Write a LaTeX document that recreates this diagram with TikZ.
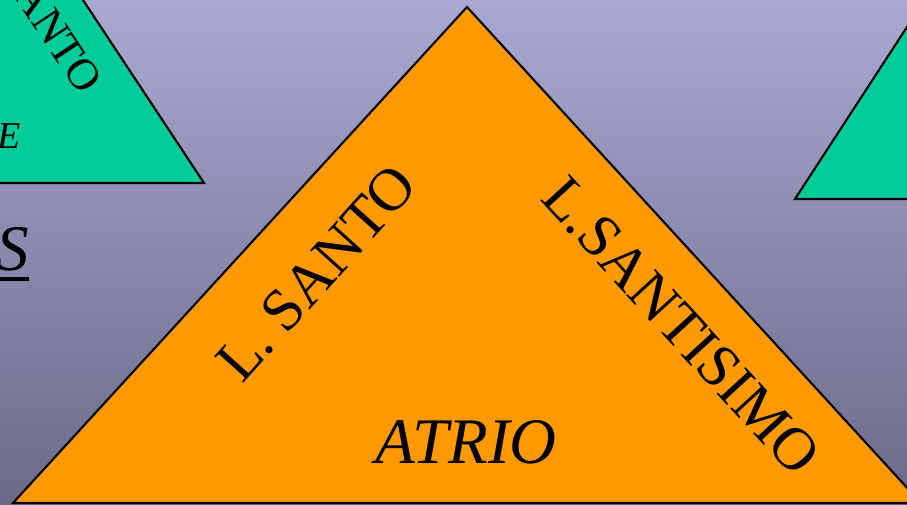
\documentclass[tikz,border=0pt]{standalone}
\usepackage{fontspec}
\setmainfont{Liberation Serif}
\usepackage{tikz}
\definecolor{bgtop}{RGB}{168,168,210}
\definecolor{bgbot}{RGB}{106,106,136}
\definecolor{zoneorange}{HTML}{FF9900}
\definecolor{zonegreen}{HTML}{00CC99}

\begin{document}
\begin{tikzpicture}[x=1pt,y=-1pt,
 zone/.style={draw=black,line width=2.1pt,line join=miter},
 big/.style={inner sep=0pt,font=\fontsize{60}{72}\selectfont},
 bigit/.style={inner sep=0pt,font=\fontsize{65}{78}\selectfont\itshape}
]
\useasboundingbox (0,0) rectangle (907,504);
\clip (0,0) rectangle (907,504);
\shade[top color=bgtop,bottom color=bgbot] (0,0) rectangle (907,504);
% side zones, cut by the frame
\filldraw[zone,fill=zonegreen] (-60,183) -- (204,183) -- (22.5,-91.5) -- cycle;
\filldraw[zone,fill=zonegreen] (795,199) -- (1000,199) -- (963,-59) -- cycle;
% main zone
\filldraw[zone,fill=zoneorange] (13,503) -- (467,7) -- (921,503) -- cycle;
\node[big,rotate=48,anchor=base] (santo) at (331,286) {L. SANTO};
\node[big,rotate=-47.5,anchor=base] (santisimo) at (667,339) {L.SANTISIMO};
\node[bigit,anchor=base] (atrio) at (466,463) {ATRIO};
% texts of the side zones
\node[inner sep=0pt,font=\fontsize{44}{52}\selectfont,rotate=-56.5,anchor=base east] (santoleft) at (80,96) {L. SANTO};
\node[inner sep=0pt,font=\fontsize{38}{46}\selectfont\itshape,anchor=base east] (eleft) at (21,148) {E};
\node[bigit,anchor=base east] (sleft) at (29,270) {S\llap{\rule[-11pt]{40pt}{4pt}}};
\end{tikzpicture}
\end{document}
